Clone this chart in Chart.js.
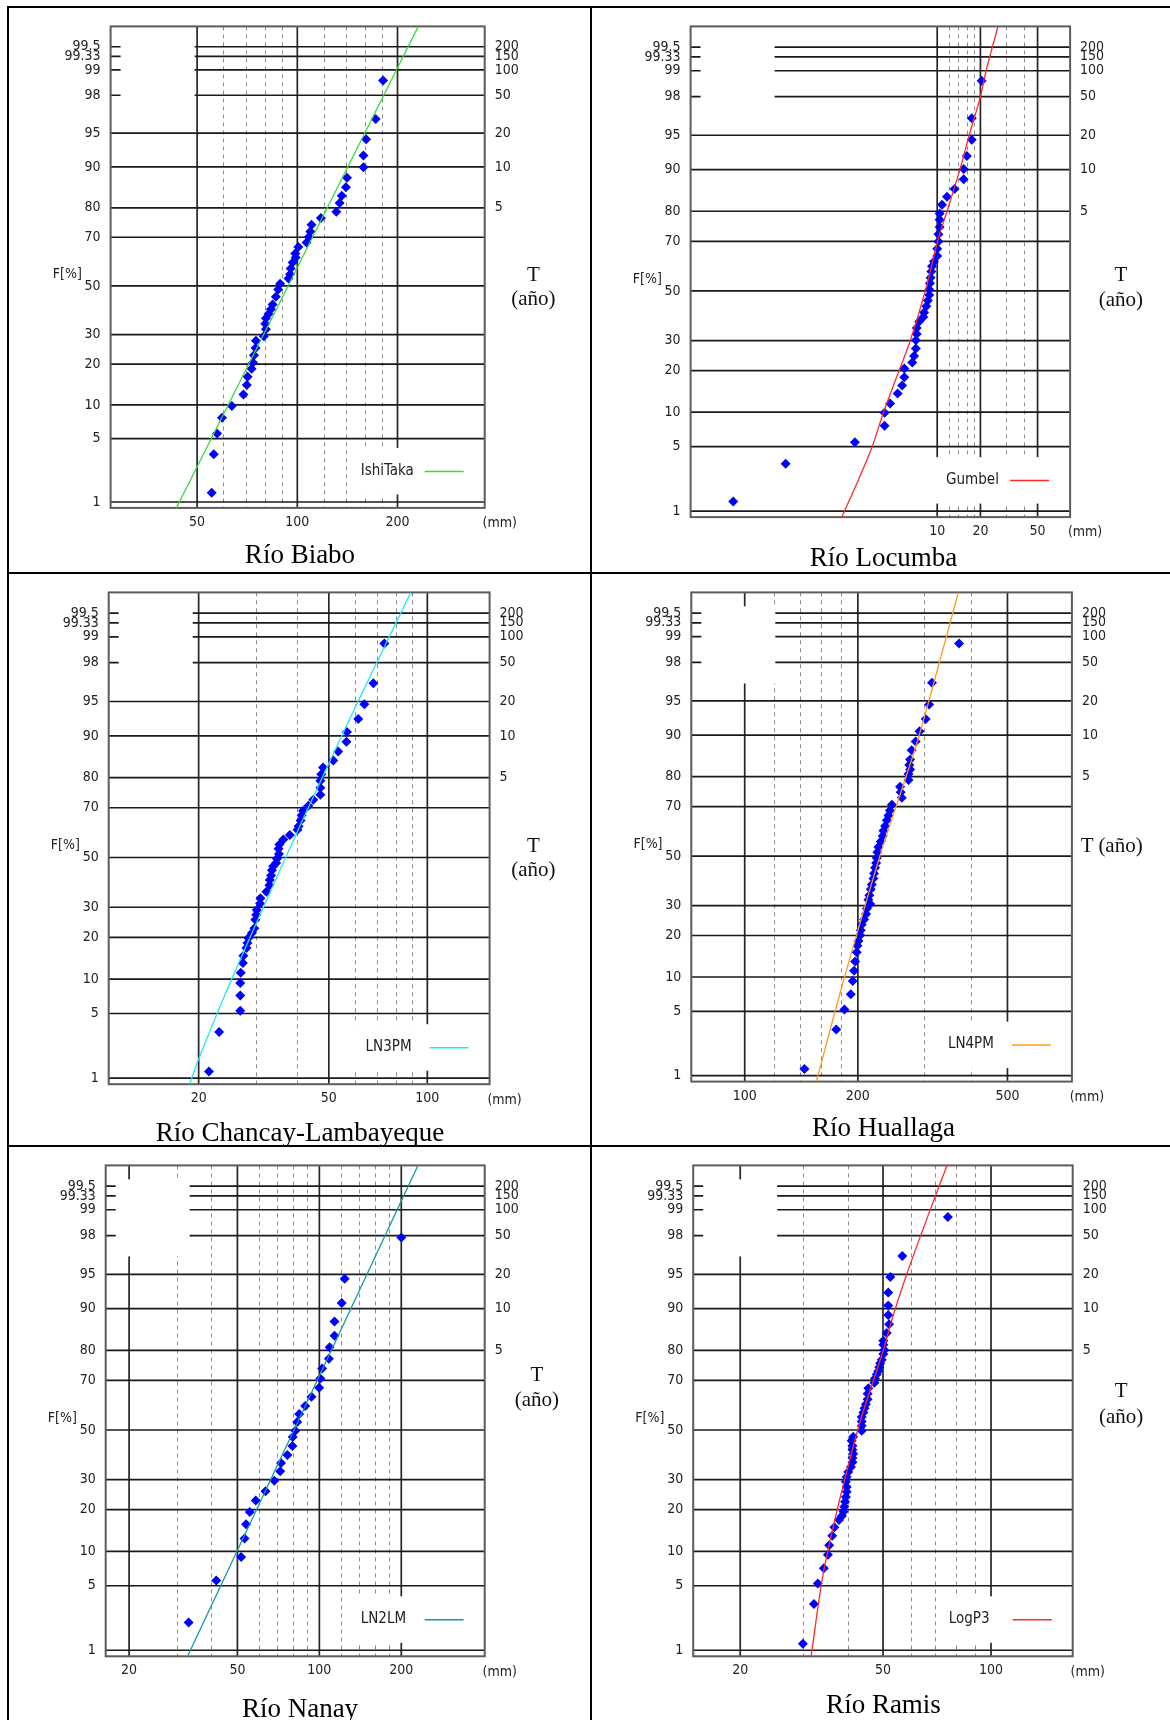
<!DOCTYPE html>
<html>
<head>
<meta charset="utf-8">
<script src="https://cdn.jsdelivr.net/npm/chart.js@4.4.1/dist/chart.umd.min.js"></script>
<style>
  html, body { margin: 0; padding: 0; background: #fff; }
  #page { position: relative; width: 1170px; height: 1720px; overflow: hidden; background: #fff; }
  #page canvas { position: absolute; }
  .rule { position: absolute; background: #000; z-index: 5; }
  .title { position: absolute; font-family: "Liberation Serif", "Times New Roman", serif; font-size: 27px; color: #000; white-space: nowrap; transform: translate(-50%, -50%); line-height: 1; }
  .cap { position: absolute; font-family: "Liberation Serif", "Times New Roman", serif; font-size: 21px; color: #111; white-space: nowrap; transform: translate(-50%, -50%); line-height: 1; }
  .small { position: absolute; color: #222; white-space: nowrap; transform: translate(-50%, -50%); line-height: 1; }
</style>
</head>
<body>
<div id="page"></div>
<script>
// ---- probability axis (non-exceedance F in %) and return periods ----
const probTicks = [1, 5, 10, 20, 30, 50, 70, 80, 90, 95, 98, 99, 99.33, 99.5];
const returnPeriods = [5, 10, 20, 50, 100, 150, 200];

// ---- Río Biabo ----
const biaboX = [181, 172, 161, 158, 158, 141, 140, 136, 134, 131, 117.7, 110.3, 109.4, 108.3, 106.6, 100.7, 98.6, 98.9, 96.8, 95.5, 95.1, 94.1, 88.8, 87.6, 86.2, 84.3, 83.3, 81.9, 80.5, 80.1, 80.5, 79.3, 75.1, 74.9, 74.1, 73.6, 72.9, 70.9, 70.5, 68.9, 63.6, 59.4, 57.4, 56.1, 55.3];
const biaboF = [98.65, 96.4, 94.3, 92.0, 89.95, 87.8, 85.6, 83.4, 81.4, 78.8, 76.8, 74.5, 72.1, 70.1, 68.0, 66.3, 63.7, 62.0, 60.0, 57.5, 55.0, 53.2, 51.0, 48.5, 45.4, 42.1, 40.1, 38.1, 36.4, 34.2, 32.1, 29.4, 27.8, 25.2, 22.8, 20.5, 18.6, 16.4, 14.3, 12.1, 9.8, 7.8, 5.6, 3.5, 1.3];
const biaboFitX = [43.3, 93.8, 198.5, 230];
const biaboFitF = [0.84, 50, 99, 99.73];
const biaboMajor = [50, 100, 200];
const biaboMinor = [60, 70, 80, 90, 120, 140, 160, 180];

// ---- Río Locumba ----
const locumbaX = [20.4, 17.4, 17.4, 16.1, 15.3, 15.3, 13.2, 11.7, 10.8, 10.4, 10.4, 10.4, 10.2, 10.2, 10.0, 10.0, 9.5, 9.2, 9.1, 9.0, 8.9, 8.8, 8.8, 8.6, 8.4, 8.1, 8.0, 7.5, 7.2, 7.2, 7.1, 7.1, 6.9, 6.7, 5.9, 5.9, 5.7, 5.3, 4.7, 4.3, 4.3, 2.67, 0.88, 0.38];
const locumbaF = [98.68, 96.6, 94.5, 92.3, 90.1, 88.1, 85.9, 84.0, 81.9, 79.3, 77.4, 75.0, 72.5, 69.9, 67.2, 64.4, 62.2, 60.3, 58.1, 55.5, 53.2, 50.6, 48.3, 46.0, 43.6, 41.0, 39.1, 37.3, 34.8, 32.4, 30.1, 27.1, 24.6, 22.5, 20.6, 18.1, 15.9, 13.9, 11.7, 9.9, 7.7, 5.5, 3.4, 1.3];
const locumbaFitX = [2.16, 2.87, 3.53, 4.23, 5.43, 6.50, 8.26, 10.06, 11.7, 14.4, 16.7, 20.0, 21.9, 26.5];
const locumbaFitF = [0.83, 2.42, 5, 10, 20, 30, 50, 70, 80, 90, 95, 98, 99, 99.74];
const locumbaMajor = [10, 20, 50];
const locumbaMinor = [12, 14, 16, 18, 30, 40];

// ---- Río Chancay-Lambayeque ----
const chancayX = [73.9, 68.4, 64.2, 61.5, 56.8, 56.6, 53.4, 51.6, 48.0, 47.4, 47.1, 47.1, 47.1, 44.8, 43.3, 41.7, 41.3, 41.0, 40.4, 40.1, 38.0, 36.3, 35.3, 35.1, 35.2, 34.7, 34.5, 33.8, 33.5, 33.3, 33.0, 32.9, 32.2, 30.9, 30.8, 30.1, 30.0, 29.8, 29.6, 29.1, 28.4, 28.2, 28.0, 27.4, 27.3, 26.9, 26.8, 26.8, 26.8, 23.1, 21.5];
const chancayF = [98.8, 96.7, 94.7, 92.8, 90.7, 88.9, 86.8, 84.7, 82.9, 81.0, 79.1, 76.9, 74.6, 72.9, 70.7, 68.9, 67.2, 65.2, 62.9, 61.5, 59.4, 57.5, 55.5, 53.7, 51.5, 49.5, 47.7, 46.3, 44.7, 42.5, 40.6, 38.5, 35.9, 33.4, 31.4, 29.0, 27.3, 25.6, 22.8, 21.3, 19.8, 18.4, 17.0, 15.0, 13.3, 11.2, 9.3, 7.3, 5.3, 3.3, 1.2];
const chancayFitX = [18.8, 19.95, 24.9, 36.9, 47.7, 61.4, 89.0];
const chancayFitF = [0.854, 1.64, 9.2, 50, 80, 95, 99.74];
const chancayMajor = [20, 50, 100];
const chancayMinor = [30, 40, 60, 70, 80, 90];

// ---- Río Huallaga ----
const huallagaX = [371.8, 315, 309.5, 303, 291.7, 285, 278, 275.5, 274, 275.5, 272.7, 272.7, 259, 260, 261.8, 246.3, 243.4, 241.2, 238.8, 236.3, 233.9, 232.9, 230.1, 226.8, 225.4, 224.5, 223.7, 222.2, 220.9, 220, 217.8, 216.4, 214.6, 213.3, 215.6, 211.3, 210.3, 207.8, 204.8, 203.6, 202.8, 200.7, 199.5, 198.6, 196.7, 195.4, 193.8, 191.5, 184.2, 175.2, 144.2];
const huallagaF = [98.79, 96.7, 94.6, 92.7, 90.7, 88.8, 86.9, 84.7, 83.3, 82.1, 80.8, 79.0, 76.9, 75.1, 73.2, 70.7, 68.6, 66.7, 64.8, 62.5, 60.6, 58.4, 56.1, 53.8, 51.6, 49.2, 47.1, 45.1, 42.7, 40.6, 38.2, 36.3, 33.9, 32.2, 30.6, 28.8, 27.0, 25.1, 23.4, 21.6, 20.1, 18.4, 17.1, 15.4, 13.2, 11.2, 9.3, 7.15, 5.2, 3.3, 1.2];
const huallagaFitX = [155.1, 181.3, 228.9, 286.4, 344, 370];
const huallagaFitF = [0.84, 8.3, 50, 88.2, 99.0, 99.74];
const huallagaMajor = [100, 200, 500];
const huallagaMinor = [120, 140, 160, 180, 300, 400];

// ---- Río Nanay ----
const nanayX = [200, 123.9, 120.8, 113.7, 113.7, 109.1, 108.4, 102.4, 100.8, 99.8, 93.6, 88.7, 84.3, 82.9, 81.6, 79.8, 79.6, 76.3, 72.3, 71.8, 68.3, 63.4, 58.4, 55.5, 53.8, 53.1, 51.6, 41.8, 33.1];
const nanayF = [97.9, 94.5, 91.0, 87.4, 84.0, 80.9, 77.4, 74.2, 70.7, 67.2, 63.7, 60.0, 56.7, 53.4, 49.7, 47.1, 43.3, 39.6, 36.4, 33.2, 29.6, 25.9, 22.8, 19.3, 16.0, 12.6, 9.0, 5.6, 2.1];
const nanayFitX = [32.9, 80.7, 230.2];
const nanayFitF = [0.86, 50, 99.74];
const nanayMajor = [20, 50, 100, 200];
const nanayMinor = [30, 40, 60, 70, 80, 90, 120, 140, 160, 180];

// ---- Río Ramis ----
const ramisX = [75.8, 56.6, 52.4, 51.7, 51.7, 51.7, 52.0, 51.2, 50.1, 50.1, 50.4, 50.1, 49.6, 49.1, 48.8, 48.5, 48.0, 47.5, 47.3, 45.5, 45.3, 45.3, 44.8, 44.4, 44.1, 43.6, 43.6, 43.6, 43.6, 41.3, 40.9, 41.1, 41.1, 41.3, 41.1, 41.1, 40.7, 40.0, 39.6, 39.4, 39.6, 39.6, 39.4, 39.2, 39.0, 38.8, 38.4, 37.7, 36.6, 36.1, 35.4, 35.1, 34.2, 32.9, 32.1, 29.9];
const ramisF = [98.78, 96.7, 94.7, 92.7, 90.6, 88.8, 86.8, 84.7, 82.7, 81.6, 80.1, 78.9, 77.1, 76.0, 74.6, 73.3, 72.1, 70.7, 69.1, 67.0, 64.9, 62.7, 60.7, 59.1, 57.3, 55.5, 53.6, 51.8, 49.7, 47.2, 45.5, 43.4, 41.7, 40.1, 38.4, 36.7, 34.8, 32.9, 31.0, 29.2, 27.4, 25.7, 24.0, 22.4, 20.9, 19.4, 18.2, 17.1, 15.2, 13.2, 11.2, 9.4, 7.2, 5.25, 3.3, 1.2];
const ramisFitX = [31.5, 34.4, 42.5, 50.1, 53.1, 58.2, 67.7, 75.4];
const ramisFitF = [0.83, 7.6, 50, 80, 88.1, 95, 99.0, 99.74];
const ramisMajor = [20, 50, 100];
const ramisMinor = [30, 40, 60, 70, 80, 90];

// Standard normal quantile (Acklam), used to place F on normal probability paper.
function probit(p) {
  const a = [-3.969683028665376e+01, 2.209460984245205e+02, -2.759285104469687e+02, 1.383577518672690e+02, -3.066479806614716e+01, 2.506628277459239e+00];
  const b = [-5.447609879822406e+01, 1.615858368580409e+02, -1.556989798598866e+02, 6.680131188771972e+01, -1.328068155288572e+01];
  const c = [-7.784894002430293e-03, -3.223964580411365e-01, -2.400758277161838e+00, -2.549732539343734e+00, 4.374664141464968e+00, 2.938163982698783e+00];
  const d = [7.784695709041462e-03, 3.224671290700398e-01, 2.445134137142996e+00, 3.754408661907416e+00];
  const pl = 0.02425, ph = 1 - pl;
  let q, r;
  if (p < pl) {
    q = Math.sqrt(-2 * Math.log(p));
    return (((((c[0]*q + c[1])*q + c[2])*q + c[3])*q + c[4])*q + c[5]) / ((((d[0]*q + d[1])*q + d[2])*q + d[3])*q + 1);
  }
  if (p <= ph) {
    q = p - 0.5; r = q * q;
    return (((((a[0]*r + a[1])*r + a[2])*r + a[3])*r + a[4])*r + a[5]) * q / (((((b[0]*r + b[1])*r + b[2])*r + b[3])*r + b[4])*r + 1);
  }
  q = Math.sqrt(-2 * Math.log(1 - p));
  return -(((((c[0]*q + c[1])*q + c[2])*q + c[3])*q + c[4])*q + c[5]) / ((((d[0]*q + d[1])*q + d[2])*q + d[3])*q + 1);
}

// Vertical extent of every probability paper, in standard normal units.
const Z_MIN = -2.39;
const Z_MAX = 2.795;

// Narrow gothic-like face for the small axis texts, with a condensed fallback.
function hasFont(name) {
  const g = document.createElement('canvas').getContext('2d');
  const s = '0123456789.FIshiTaka(mm)';
  g.font = '40px monospace';
  const w1 = g.measureText(s).width;
  g.font = '40px "' + name + '", monospace';
  const w2 = g.measureText(s).width;
  return Math.abs(w1 - w2) > 0.5;
}
const NARROW = hasFont('Liberation Sans Narrow');
const SMALL_FAMILY = NARROW ? '"Liberation Sans Narrow", "DejaVu Sans Condensed", sans-serif' : '"DejaVu Sans Condensed", "DejaVu Sans", sans-serif';
const SMALL_SIZE = NARROW ? 15 : 14;
const LEGEND_SIZE = NARROW ? 16 : 15;

// Panel layout: cell = [left, top, width, height], plot = [left, top, right, bottom] in page pixels.
const panels = [
  { title: 'Río Biabo', xs: biaboX, fs: biaboF, fitX: biaboFitX, fitF: biaboFitF, major: biaboMajor, minor: biaboMinor,
    fitName: 'IshiTaka', color: '#35dc35', xMin: 27.48, xMax: 365.6,
    cell: [10, 8, 579, 563], plot: [110.6, 20.2, 484.7, 507.9], tLabel: [48.7, -11.6, 12.2], titleAt: [300, 553.7] },
  { title: 'Río Locumba', xs: locumbaX, fs: locumbaF, fitX: locumbaFitX, fitF: locumbaFitF, major: locumbaMajor, minor: locumbaMinor,
    fitName: 'Gumbel', color: '#ff2a2a', xMin: 0.1917, xMax: 84.25,
    cell: [593, 8, 577, 563], plot: [690.6, 21.3, 1070.1, 517.1], tLabel: [50.7, -17.2, 8.4], titleAt: [883.5, 557.4] },
  { title: 'Río Chancay-Lambayeque', xs: chancayX, fs: chancayF, fitX: chancayFitX, fitF: chancayFitF, major: chancayMajor, minor: chancayMinor,
    fitName: 'LN3PM', color: '#22e6f6', xMin: 10.62, xMax: 155.0,
    cell: [10, 574, 579, 570], plot: [108.7, 586.6, 489.6, 1084.2], tLabel: [43.8, -12.9, 11.0], titleAt: [300, 1132] },
  { title: 'Río Huallaga', xs: huallagaX, fs: huallagaF, fitX: huallagaFitX, fitF: huallagaFitF, major: huallagaMajor, minor: huallagaMinor,
    fitName: 'LN4PM', color: '#ff9a1e', xMin: 72.1, xMax: 742,
    cell: [593, 574, 577, 570], plot: [691.3, 585.5, 1071.9, 1081.6], tLabel: [39.8, -11.0, null], titleAt: [883.5, 1126.6] },
  { title: 'Río Nanay', xs: nanayX, fs: nanayF, fitX: nanayFitX, fitF: nanayFitF, major: nanayMajor, minor: nanayMinor,
    fitName: 'LN2LM', color: '#139c9c', xMin: 16.41, xMax: 405,
    cell: [10, 1147, 579, 573], plot: [105.7, 1159.6, 484.7, 1656.3], tLabel: [52.1, -56.3, -31.3], titleAt: [300, 1707.9] },
  { title: 'Río Ramis', xs: ramisX, fs: ramisF, fitX: ramisFitX, fitF: ramisFitF, major: ramisMajor, minor: ramisMinor,
    fitName: 'LogP3', color: '#ff2a2a', xMin: 14.79, xMax: 168.9,
    cell: [593, 1147, 577, 573], plot: [693.2, 1160.3, 1072.7, 1656.3], tLabel: [48.5, -40.5, -13.6], titleAt: [883.5, 1704.2] }
];

const page = document.getElementById('page');

function addText(cls, text, x, y, font) {
  const el = document.createElement('div');
  el.className = cls;
  el.textContent = text;
  el.style.left = x + 'px';
  el.style.top = y + 'px';
  if (font) { el.style.fontFamily = font.family; el.style.fontSize = font.size + 'px'; }
  page.appendChild(el);
  return el;
}

function addRule(x, y, w, h) {
  const el = document.createElement('div');
  el.className = 'rule';
  el.style.left = x + 'px'; el.style.top = y + 'px';
  el.style.width = w + 'px'; el.style.height = h + 'px';
  page.appendChild(el);
}

// Grid of the probability paper: dashed minor and solid major verticals, probability lines,
// the blank label boxes, the frame, and the in-plot legend.
function paperPlugin(p) {
  return {
    id: 'paper',
    beforeDatasetsDraw(chart) {
      const { ctx, chartArea: ca, scales } = chart;
      const xs = scales.x, ys = scales.y;
      ctx.save();
      ctx.setLineDash([4, 4]);
      ctx.strokeStyle = '#8a8a8a';
      ctx.lineWidth = 1;
      p.minor.forEach(v => {
        const px = Math.round(xs.getPixelForValue(v)) + 0.5;
        ctx.beginPath(); ctx.moveTo(px, ca.top); ctx.lineTo(px, ca.bottom); ctx.stroke();
      });
      ctx.setLineDash([]);
      ctx.strokeStyle = '#262626';
      ctx.lineWidth = 1.7;
      p.major.forEach(v => {
        const px = xs.getPixelForValue(v);
        ctx.beginPath(); ctx.moveTo(px, ca.top); ctx.lineTo(px, ca.bottom); ctx.stroke();
      });
      ctx.strokeStyle = '#1a1a1a';
      probTicks.forEach(f => {
        const py = ys.getPixelForValue(probit(f / 100));
        ctx.beginPath(); ctx.moveTo(ca.left, py); ctx.lineTo(ca.right, py); ctx.stroke();
      });
      ctx.fillStyle = '#ffffff';
      ctx.fillRect(ca.left + 10, ca.top + 14, 74, 77);
      ctx.fillRect(ca.right - 136, ca.bottom - 60, 136, 46.5);
      ctx.strokeStyle = '#5c5c5c';
      ctx.lineWidth = 2;
      ctx.strokeRect(ca.left, ca.top, ca.right - ca.left, ca.bottom - ca.top);
      ctx.restore();
    },
    afterDatasetsDraw(chart) {
      const { ctx, chartArea: ca } = chart;
      const y = ca.bottom - 37;
      ctx.save();
      ctx.font = LEGEND_SIZE + 'px ' + SMALL_FAMILY;
      ctx.fillStyle = '#222';
      ctx.textAlign = 'left';
      ctx.textBaseline = 'middle';
      ctx.fillText(p.fitName, ca.right - 124, y);
      ctx.strokeStyle = p.color;
      ctx.lineWidth = 1.5;
      ctx.beginPath(); ctx.moveTo(ca.right - 60, y + 0.5); ctx.lineTo(ca.right - 21, y + 0.5); ctx.stroke();
      ctx.restore();
    }
  };
}

function buildPanel(p) {
  const [cx, cy, cw, ch] = p.cell;
  const [pl, pt, pr, pb] = p.plot;
  const cv = document.createElement('canvas');
  cv.width = cw; cv.height = ch;
  cv.style.left = cx + 'px'; cv.style.top = cy + 'px';
  cv.style.width = cw + 'px'; cv.style.height = ch + 'px';
  page.appendChild(cv);

  const leftW = pl - cx;
  const rightW = cx + cw - pr;
  const bottomH = cy + ch - pb;
  const tickFont = { family: SMALL_FAMILY, size: SMALL_SIZE };

  const chart = new Chart(cv, {
    type: 'scatter',
    data: {
      datasets: [
        {
          label: p.fitName,
          data: p.fitX.map((v, i) => ({ x: v, y: probit(p.fitF[i] / 100) })),
          showLine: true, borderColor: p.color, borderWidth: 1.3, pointRadius: 0,
          tension: 0.3, fill: false, order: 0
        },
        {
          label: 'datos',
          data: p.xs.map((v, i) => ({ x: v, y: probit(p.fs[i] / 100) })),
          pointStyle: 'rectRot', pointRadius: 5, backgroundColor: '#0000ff',
          borderColor: '#0000ff', borderWidth: 0, order: 1
        }
      ]
    },
    options: {
      responsive: false, animation: false, devicePixelRatio: 1,
      layout: { padding: { top: pt - cy, left: 0, right: 0, bottom: 0 } },
      plugins: { legend: { display: false }, tooltip: { enabled: false } },
      scales: {
        x: {
          type: 'logarithmic', position: 'bottom', min: p.xMin, max: p.xMax,
          afterBuildTicks: s => { s.ticks = p.major.map(v => ({ value: v })); },
          afterFit: s => { s.height = bottomH; },
          ticks: { autoSkip: false, maxRotation: 0, padding: 6, font: tickFont, color: '#222',
                   callback: (v, i) => String(p.major[i]) },
          grid: { display: false, drawTicks: false }, border: { display: false }
        },
        y: {
          type: 'linear', position: 'left', min: Z_MIN, max: Z_MAX,
          afterBuildTicks: s => { s.ticks = probTicks.map(f => ({ value: probit(f / 100) })); },
          afterFit: s => { s.width = leftW; },
          ticks: { autoSkip: false, padding: 10, font: tickFont, color: '#222',
                   callback: (v, i) => String(probTicks[i]) },
          grid: { display: false, drawTicks: false }, border: { display: false }
        },
        yT: {
          type: 'linear', position: 'right', min: Z_MIN, max: Z_MAX,
          afterBuildTicks: s => { s.ticks = returnPeriods.map(t => ({ value: probit(1 - 1 / t) })); },
          afterFit: s => { s.width = rightW; },
          ticks: { autoSkip: false, padding: 10, font: tickFont, color: '#222',
                   callback: (v, i) => String(returnPeriods[i]) },
          grid: { display: false, drawTicks: false }, border: { display: false }
        }
      }
    },
    plugins: [paperPlugin(p)]
  });

  // Captions placed around the plot frame.
  const ca = chart.chartArea;
  const zero = cy + chart.scales.y.getPixelForValue(0);
  const left = cx + ca.left, right = cx + ca.right, bottom = cy + ca.bottom;
  addText('small', 'F[%]', left - 43.3, zero - 13.3, tickFont);
  addText('small', '(mm)', right + 15, bottom + 14.3, tickFont);
  const [dx, dyT, dyA] = p.tLabel;
  if (dyA === null) {
    addText('cap', 'T (año)', right + dx, zero + dyT);
  } else {
    addText('cap', 'T', right + dx, zero + dyT);
    addText('cap', '(año)', right + dx, zero + dyA);
  }
  addText('title', p.title, p.titleAt[0], p.titleAt[1]);
}

panels.forEach(buildPanel);

// Table rules separating the six panels.
addRule(7, 5.5, 1163, 2);
addRule(7.3, 5.5, 2, 1715);
addRule(589.7, 5.5, 2, 1715);
addRule(7, 571.5, 1163, 2);
addRule(7, 1144.8, 1163, 2);
</script>
</body>
</html>
